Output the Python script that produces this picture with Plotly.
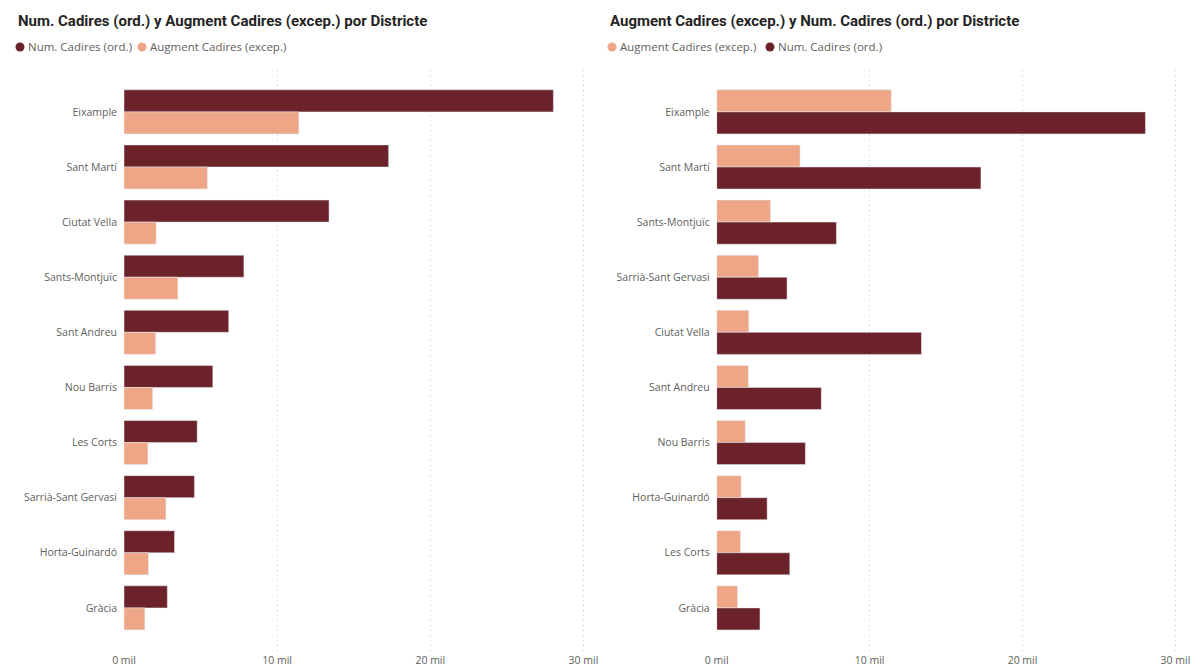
import plotly.graph_objects as go

# District order and values (chairs), left chart sorted by ordinary chairs
districts_ord = ["Eixample", "Sant Martí", "Ciutat Vella", "Sants-Montjuïc", "Sant Andreu",
                 "Nou Barris", "Les Corts", "Sarrià-Sant Gervasi", "Horta-Guinardó", "Gràcia"]
num_cadires = [28040, 17280, 13390, 7830, 6840, 5800, 4780, 4600, 3300, 2830]
augment_cadires = [11420, 5450, 2100, 3520, 2070, 1870, 1560, 2740, 1600, 1360]

# Right chart sorted by the exceptional increase
districts_aug = ["Eixample", "Sant Martí", "Sants-Montjuïc", "Sarrià-Sant Gervasi", "Ciutat Vella",
                 "Sant Andreu", "Nou Barris", "Horta-Guinardó", "Les Corts", "Gràcia"]

tick_vals = [0, 10000, 20000, 30000]
tick_text = ["0 mil", "10 mil", "20 mil", "30 mil"]

DARK = "#6B2228"
LIGHT = "#EEA687"
LABEL = "#605E5C"
TITLE = "#252423"
FONT = "Open Sans"

num_map = dict(zip(districts_ord, num_cadires))
aug_map = dict(zip(districts_ord, augment_cadires))

fig = go.Figure()

# Left chart: ordinary first, then exceptional
fig.add_trace(go.Bar(y=districts_ord, x=num_cadires, orientation="h", marker_color=DARK,
                     name="Num. Cadires (ord.)", xaxis="x", yaxis="y", offsetgroup="a"))
fig.add_trace(go.Bar(y=districts_ord, x=augment_cadires, orientation="h", marker_color=LIGHT,
                     name="Augment Cadires (excep.)", xaxis="x", yaxis="y", offsetgroup="b"))

# Right chart: exceptional first, then ordinary
fig.add_trace(go.Bar(y=districts_aug, x=[aug_map[d] for d in districts_aug], orientation="h",
                     marker_color=LIGHT, name="Augment Cadires (excep.)", xaxis="x2", yaxis="y2",
                     offsetgroup="a"))
fig.add_trace(go.Bar(y=districts_aug, x=[num_map[d] for d in districts_aug], orientation="h",
                     marker_color=DARK, name="Num. Cadires (ord.)", xaxis="x2", yaxis="y2",
                     offsetgroup="b"))

W, H = 1196, 668
TOP, BOTTOM = 70, 16
PLOT_H = H - TOP - BOTTOM

xaxis_common = dict(
    range=[0, 30300], tickvals=tick_vals, ticktext=tick_text,
    showgrid=True, gridcolor="#C8C6C4", griddash="1px,4px", gridwidth=1,
    zeroline=False, showline=False, ticks="", automargin=False,
    tickfont=dict(family=FONT, size=10.5, color=LABEL), fixedrange=True,
)
yaxis_common = dict(
    type="category", range=[9.8, -0.76], showgrid=False, zeroline=False, showline=False,
    ticks="", ticklabelstandoff=6, automargin=False,
    tickfont=dict(family=FONT, size=10.5, color=LABEL), fixedrange=True,
)

fig.update_layout(
    width=W, height=H,
    margin=dict(l=0, r=0, t=TOP, b=BOTTOM),
    paper_bgcolor="white", plot_bgcolor="white",
    barmode="group", bargap=0.2, bargroupgap=0,
    showlegend=False,
    xaxis=dict(domain=[124 / W, 588 / W], anchor="y", **xaxis_common),
    yaxis=dict(domain=[0, 1], anchor="x", categoryorder="array",
               categoryarray=districts_ord, **yaxis_common),
    xaxis2=dict(domain=[716.7 / W, 1180 / W], anchor="y2", **xaxis_common),
    yaxis2=dict(domain=[0, 1], anchor="x2", categoryorder="array",
                categoryarray=districts_aug, **yaxis_common),
)

def py(y_px):
    # pixel row from the top of the page -> paper coordinate
    return (H - BOTTOM - y_px) / PLOT_H

def title(text, x):
    fig.add_annotation(text=text, x=x / W, y=py(21), xref="paper", yref="paper",
                       xanchor="left", yanchor="middle", showarrow=False,
                       font=dict(family="Liberation Sans Narrow, Roboto", size=15,
                                 color=TITLE, weight="bold"))

def legend_item(text, color, cx):
    # circular swatch followed by the series name
    r = 4.5
    fig.add_shape(type="circle", xref="paper", yref="paper",
                  x0=(cx - r) / W, x1=(cx + r) / W, y0=py(47 + r), y1=py(47 - r),
                  fillcolor=color, line_width=0)
    fig.add_annotation(text=text, x=(cx + 6) / W, y=py(47), xref="paper", yref="paper",
                       xanchor="left", yanchor="middle", showarrow=False,
                       font=dict(family=FONT, size=11.5, color=LABEL))

title("Num. Cadires (ord.) y Augment Cadires (excep.) por Districte", 16)
title("Augment Cadires (excep.) y Num. Cadires (ord.) por Districte", 608)
legend_item("Num. Cadires (ord.)", DARK, 20)
legend_item("Augment Cadires (excep.)", LIGHT, 142)
legend_item("Augment Cadires (excep.)", LIGHT, 612)
legend_item("Num. Cadires (ord.)", DARK, 770)

fig.write_html("out.html")
